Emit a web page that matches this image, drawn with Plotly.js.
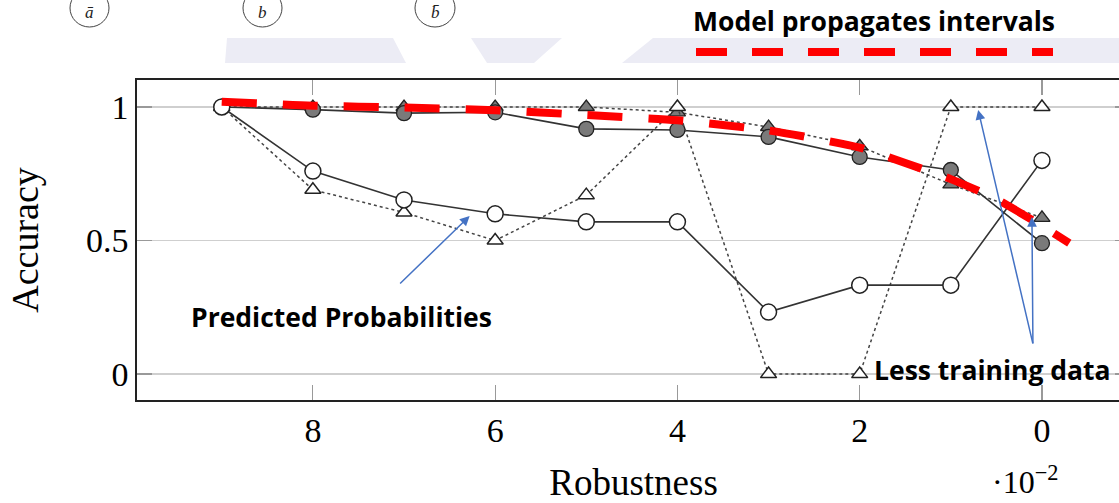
<!DOCTYPE html>
<html><head><meta charset="utf-8">
<script src="https://cdn.plot.ly/plotly-3.0.1.min.js"></script>
<style>html,body{margin:0;padding:0;overflow:hidden;background:#fff}#chart{width:1150px;height:503px}</style>
</head><body><div id="chart"></div>
<script>
// ---- data ----
const robustness = [9, 8, 7, 6, 5, 4, 3, 2, 1, 0];
const accFilledCircle   = [1.0, 0.99, 0.977, 0.98, 0.918, 0.914, 0.888, 0.813, 0.764, 0.49];
const accFilledTriangle = [1.0, 1.0, 1.0, 1.0, 1.0, 0.98, 0.925, 0.853, 0.71, 0.585];
const accOpenCircle     = [1.0, 0.76, 0.652, 0.60, 0.57, 0.57, 0.232, 0.333, 0.333, 0.80];
const accOpenTriangle   = [1.0, 0.69, 0.605, 0.50, 0.67, 1.0, 0.0, 0.0, 1.0, 1.0];
const intervalX = [9.0, 8.0, 7.0, 6.0, 5.0, 4.0, 3.0, 2.0, 1.5, 1.0, 0.5, 0.0, -0.3];
const intervalY = [1.02, 1.005, 0.998, 0.988, 0.97, 0.95, 0.912, 0.848, 0.79, 0.73, 0.655, 0.555, 0.49];
const xTickVals = [8, 6, 4, 2, 0];
const xTickText = ['8', '6', '4', '2', '0'];
const yTickVals = [0, 0.5, 1];
const yTickText = ['0', '0.5', '1'];
const topLetters = ['ā', 'b', 'b̄'];
const legendLabel = 'Model propagates intervals';
const noteProb = 'Predicted Probabilities';
const noteData = 'Less training data';

// ---- geometry helpers (pixel -> paper) ----
const L = 137, R = 1130, T = 80, B = 400;
const PX = p => (p - L) / (R - L);
const PY = p => (B - p) / (B - T);

const serif = 'Liberation Serif, Times New Roman, serif';
const sans = 'Open Sans, Noto Sans, sans-serif';
const blue = '#4472C4';

const traces = [
  {x: robustness, y: accFilledTriangle, mode: 'lines+markers', cliponaxis: false,
   line: {color: '#444', width: 1.5, dash: 'dot'},
   marker: {symbol: 'triangle-up', size: 14, color: '#7a7a7a', line: {color: '#222', width: 1.3}}},
  {x: robustness, y: accFilledCircle, mode: 'lines+markers', cliponaxis: false,
   line: {color: '#333', width: 1.6},
   marker: {symbol: 'circle', size: 15, color: '#7a7a7a', line: {color: '#222', width: 1.3}}},
  {x: robustness, y: accOpenTriangle, mode: 'lines+markers', cliponaxis: false,
   line: {color: '#444', width: 1.5, dash: 'dot'},
   marker: {symbol: 'triangle-up', size: 14, color: '#fff', line: {color: '#222', width: 1.5}}},
  {x: robustness, y: accOpenCircle, mode: 'lines+markers', cliponaxis: false,
   line: {color: '#333', width: 1.6},
   marker: {symbol: 'circle', size: 16, color: '#fff', line: {color: '#222', width: 1.5}}},
  {x: intervalX, y: intervalY, mode: 'lines', cliponaxis: false,
   line: {color: '#ff0000', width: 8, dash: '35px,26px', shape: 'spline', smoothing: 0.6}}
];

const band = '#ececf5';
const shapes = [
  // lavender band fragments above the plot
  {type: 'path', xref: 'paper', yref: 'paper', layer: 'below', line: {width: 0}, fillcolor: band,
   path: `M${PX(227)},${PY(38)} L${PX(393)},${PY(38)} L${PX(406)},${PY(63)} L${PX(225)},${PY(63)} Z`},
  {type: 'path', xref: 'paper', yref: 'paper', layer: 'below', line: {width: 0}, fillcolor: band,
   path: `M${PX(471)},${PY(38)} L${PX(562)},${PY(38)} L${PX(534)},${PY(63)} L${PX(487)},${PY(63)} Z`},
  {type: 'path', xref: 'paper', yref: 'paper', layer: 'below', line: {width: 0}, fillcolor: band,
   path: `M${PX(653)},${PY(38)} L${PX(1150)},${PY(38)} L${PX(1150)},${PY(63)} L${PX(622)},${PY(63)} Z`},
  // circled letters
  {type: 'circle', xref: 'paper', yref: 'paper', line: {color: '#444', width: 1},
   x0: PX(70), x1: PX(109), y0: PY(27), y1: PY(-11)},
  {type: 'circle', xref: 'paper', yref: 'paper', line: {color: '#444', width: 1},
   x0: PX(243), x1: PX(282), y0: PY(27), y1: PY(-11)},
  {type: 'circle', xref: 'paper', yref: 'paper', line: {color: '#444', width: 1},
   x0: PX(415), x1: PX(455), y0: PY(27), y1: PY(-11)},
  // legend line
  {type: 'line', xref: 'paper', yref: 'paper', line: {color: '#ff0000', width: 8, dash: '31px,25px'},
   x0: PX(696), x1: PX(1053), y0: PY(52), y1: PY(52)}
];

function note(xref, yref, x, y, text, font) {
  return {xref, yref, x, y, text, showarrow: false, xanchor: 'center', yanchor: 'middle', font};
}
const letterFont = {family: serif, size: 17, color: '#222', style: 'italic'};
const boldFont = {family: sans, size: 26.5, color: '#000', weight: 'bold'};

const annotations = [
  note('paper', 'paper', PX(89.5), PY(12), topLetters[0], letterFont),
  note('paper', 'paper', PX(262.5), PY(12), topLetters[1], letterFont),
  note('paper', 'paper', PX(435), PY(12), topLetters[2], letterFont),
  note('paper', 'paper', PX(873.5), PY(21), legendLabel, boldFont),
  note('x', 'y', 7.69, 0.213, noteProb, boldFont),
  note('x', 'y', 0.545, 0.015, noteData, boldFont),
  note('paper', 'paper', PX(1025), PY(480), '·10<sup>−2</sup>', {family: serif, size: 32, color: '#000'}),
  // arrows
  {xref: 'x', yref: 'y', x: 6.28, y: 0.592, text: '', showarrow: true, ax: -71, ay: 69,
   arrowhead: 2, arrowsize: 1.3, arrowwidth: 1.5, arrowcolor: blue, standoff: 0},
  {xref: 'x', yref: 'y', x: 0.70, y: 0.989, text: '', showarrow: true, ax: 55, ay: 235,
   arrowhead: 2, arrowsize: 1.3, arrowwidth: 1.5, arrowcolor: blue, standoff: 0},
  {xref: 'x', yref: 'y', x: 0.11, y: 0.588, text: '', showarrow: true, ax: 1, ay: 128,
   arrowhead: 2, arrowsize: 1.3, arrowwidth: 1.5, arrowcolor: blue, standoff: 0}
];

const layout = {
  width: 1150, height: 503,
  margin: {l: L, r: 1150 - R, t: T, b: 503 - B},
  paper_bgcolor: '#fff', plot_bgcolor: '#fff',
  showlegend: false,
  xaxis: {
    range: [9.93, -0.966], tickvals: xTickVals, ticktext: xTickText,
    ticks: 'inside', ticklen: 15, tickwidth: 1.2, tickcolor: '#999', mirror: 'allticks',
    showline: true, linecolor: '#222', linewidth: 1.6,
    showgrid: false, zeroline: false,
    tickfont: {family: serif, size: 34, color: '#000'},
    title: {text: 'Robustness', font: {family: serif, size: 37, color: '#000'}, standoff: 22}
  },
  yaxis: {
    range: [-0.097, 1.101], tickvals: yTickVals, ticktext: yTickText,
    ticks: 'inside', ticklen: 15, tickwidth: 1.2, tickcolor: '#999', mirror: 'allticks',
    showline: true, linecolor: '#222', linewidth: 1.6,
    showgrid: true, gridcolor: '#cfcfcf', gridwidth: 1.5, zeroline: false,
    tickfont: {family: serif, size: 34, color: '#000'},
    title: {text: 'Accuracy', font: {family: serif, size: 38, color: '#000'}, standoff: 36}
  },
  shapes: shapes,
  annotations: annotations
};

Plotly.newPlot('chart', traces, layout, {displayModeBar: false, staticPlot: true});
</script>
</body></html>
